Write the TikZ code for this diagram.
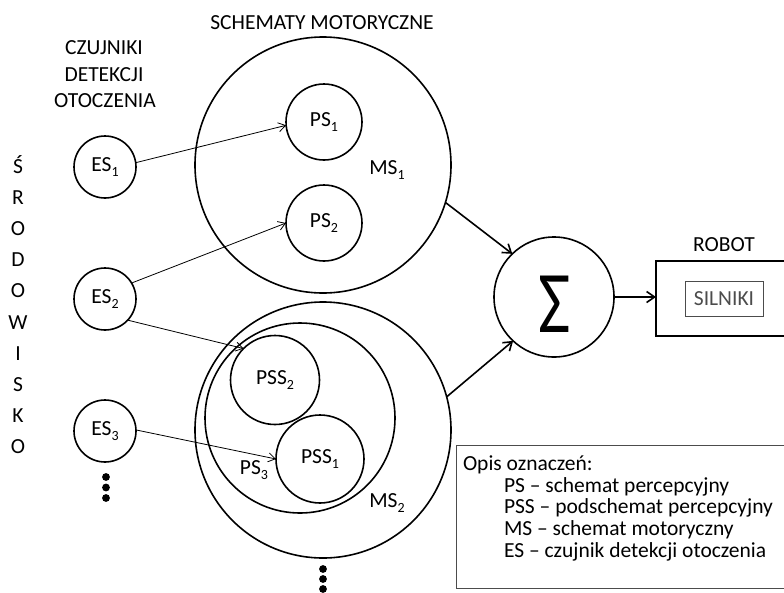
\documentclass[tikz,border=0pt]{standalone}
\usepackage{fontspec}
\usepackage{graphicx}
\setmainfont{Carlito}
\usetikzlibrary{arrows.meta}
% lowered index used in the labels (ES1, PS2, ...)
\newcommand\lowidx[1]{\raisebox{-4.5pt}{\fontsize{14}{14}\selectfont #1}}
\begin{document}
\begin{tikzpicture}[x=1pt,y=-1pt,
  every node/.style={font=\fontsize{21.5}{22}\selectfont, inner sep=0pt, outer sep=0pt},
  ring/.style={circle, draw, line width=1.6pt},
  sensor/.style={ring, minimum size=62pt},
  thinarrow/.style={line width=0.8pt, -{Straight Barb[length=7pt,width=9pt]}},
  thickarrow/.style={line width=1.6pt, -{Straight Barb[length=8pt,width=11pt]}},
  framebox/.style={draw, line width=0.8pt, black!70},
  dot/.style={fill=black}
]
\useasboundingbox (0,0) rectangle (784,592);

% headings
\node (title) at (322,23) {SCHEMATY MOTORYCZNE};
\node (hd1) at (104,48) {CZUJNIKI};
\node (hd2) at (104,75) {DETEKCJI};
\node (hd3) at (105,101) {OTOCZENIA};

% vertical word on the left
\foreach \ch [count=\i] in {Ś,R,O,D,O,W,I,S,K,O}
  \node[anchor=base] (env\i) at (18,{173+31.2*(\i-1)}) {\ch};

% sensors
\node[sensor] (es1) at (105,167) {ES\lowidx{1}};
\node[sensor] (es2) at (105,299) {ES\lowidx{2}};
\node[sensor] (es3) at (105,431) {ES\lowidx{3}};
\fill[dot] (106,477) circle (3.9pt) (106,487.5) circle (3.9pt) (106,498) circle (3.9pt);

% motor schema 1
\node[ring, minimum size=256pt] (ms1) at (323,165) {};
\node[ring, minimum size=76pt] (ps1) at (324,122) {PS\lowidx{1}};
\node[ring, minimum size=76pt] (ps2) at (324,223) {PS\lowidx{2}};
\node (ms1lbl) at (387,170) {MS\lowidx{1}};

% motor schema 2
\node[ring, minimum size=256pt] (ms2) at (323,430) {};
\node[ring, minimum size=190pt] (ps3) at (300,418) {};
\node[ring, minimum size=89pt] (pss2) at (275,380) {PSS\lowidx{2}};
\node[ring, minimum size=88pt] (pss1) at (320,459) {PSS\lowidx{1}};
\node (ps3lbl) at (254,470) {PS\lowidx{3}};
\node (ms2lbl) at (387,503) {MS\lowidx{2}};
\fill[dot] (323,569) circle (3.9pt) (323,579) circle (3.9pt) (323,589) circle (3.9pt);

% summation
\node[ring, minimum size=120pt] (sum) at (554,297) {};
\node (sumsym) at (555,304) {\fontsize{88}{88}\selectfont\scalebox{0.8}[1]{Σ}};

% robot
\node (robotlbl) at (724,245) {ROBOT};
\node[draw, line width=1.6pt, minimum width=144pt, minimum height=75pt] (robot) at (728,298.5) {};
\node[framebox, minimum width=78pt, minimum height=35pt] (motors) at (724,298.5) {SILNIKI};

% legend
\node[framebox, minimum width=344pt, minimum height=143pt] (legend) at (628,516.5) {};
\node[anchor=base west] (lg0) at (463,470) {Opis oznaczeń:};
\node[anchor=base west] (lg1) at (504,492) {PS -- schemat percepcyjny};
\node[anchor=base west] (lg2) at (504,513.5) {PSS -- podschemat percepcyjny};
\node[anchor=base west] (lg3) at (504,535) {MS -- schemat motoryczny};
\node[anchor=base west] (lg4) at (504,557) {ES -- czujnik detekcji otoczenia};

% sensor links
\draw[thinarrow] (es1.8) -- (ps1.185);
\draw[thinarrow] (es2.31) -- (ps2.180);
\draw[thinarrow] (es2.-43) -- (pss2.135);
\draw[thinarrow] (es3.2) -- (pss1.180);

% outputs
\draw[thickarrow] (ms1.-17) -- (sum.134);
\draw[thickarrow] (ms2.15) -- (sum.-133);
\draw[thickarrow] (sum.east) -- (sum.east -| robot.west);
\end{tikzpicture}
\end{document}
